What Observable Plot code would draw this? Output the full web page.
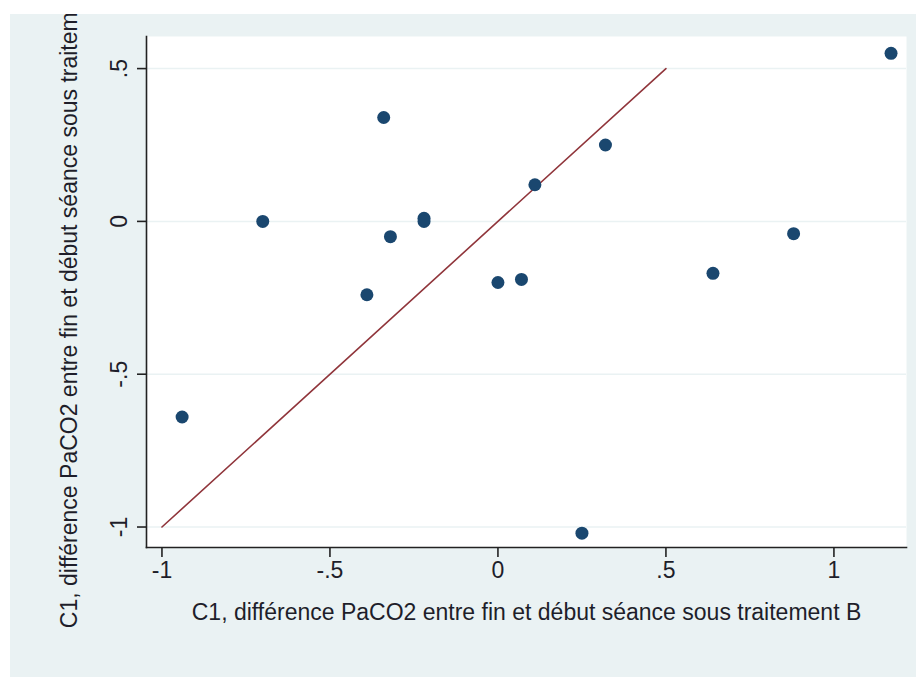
<!DOCTYPE html>
<html>
<head>
<meta charset="utf-8">
<script src="https://cdn.jsdelivr.net/npm/d3@7"></script>
<script src="https://cdn.jsdelivr.net/npm/@observablehq/plot@0.6"></script>
<style>
  html, body { margin: 0; padding: 0; background: #ffffff; }
  #panel { position: absolute; left: 10px; top: 14px; width: 906px; height: 663px; background: #eaf2f3; overflow: hidden; }
  #panel svg { overflow: hidden; display: block; }
</style>
</head>
<body>
<div id="panel"></div>
<script>
// Data
const xB = [-0.94, -0.70, -0.39, -0.34, -0.32, -0.22, -0.22, 0.00, 0.07, 0.11, 0.32, 0.25, 0.64, 0.88, 1.17];
const yA = [-0.64, 0.00, -0.24, 0.34, -0.05, 0.01, 0.00, -0.20, -0.19, 0.12, 0.25, -1.02, -0.17, -0.04, 0.55];
const refX = [-1, 0.5];
const refY = [-1, 0.5];
const xTicks = [-1, -0.5, 0, 0.5, 1];
const yTicks = [-1, -0.5, 0, 0.5];
const xTitle = "C1, différence PaCO2 entre fin et début séance sous traitement B";
const yTitle = "C1, différence PaCO2 entre fin et début séance sous traitement A";

const points = xB.map((x, i) => ({x, y: yA[i]}));
const ref = refX.map((x, i) => ({x, y: refY[i]}));
const fmt = d => d === 0 ? "0" : String(d).replace("0.", ".");

const font = "Liberation Sans, Arial, sans-serif";
const fs = 23;
const ink = "#1e1e2a";

const chart = Plot.plot({
  width: 906,
  height: 663,
  marginLeft: 136,
  marginRight: 10,
  marginTop: 22,
  marginBottom: 130,
  style: {background: "transparent", fontFamily: font, fontSize: fs + "px", color: ink, overflow: "hidden"},
  x: {domain: [-1.046, 1.216], axis: null},
  y: {domain: [-1.067, 0.605], axis: null},
  marks: [
    Plot.frame({fill: "#ffffff", stroke: null}),
    Plot.ruleY(yTicks, {y: d => d, stroke: "#eaf2f3", strokeWidth: 1.5}),
    Plot.frame({anchor: "left", stroke: "#222", strokeWidth: 1.6}),
    Plot.frame({anchor: "bottom", stroke: "#222", strokeWidth: 1.6}),
    Plot.axisX({ticks: xTicks, tickSize: 10, tickPadding: 4, tickFormat: fmt, fontSize: fs, strokeWidth: 1.6, stroke: "#222", fill: ink, label: null}),
    Plot.axisY({ticks: yTicks, tickSize: 9, text: null, strokeWidth: 1.6, stroke: "#222", label: null}),
    Plot.text(yTicks, {y: d => d, frameAnchor: "left", dx: -27, rotate: -90, textAnchor: "middle", lineAnchor: "middle", text: fmt, fontSize: fs, fill: ink}),
    Plot.text([xTitle], {frameAnchor: "bottom", dy: 72, textAnchor: "middle", text: d => d, fontSize: fs, fill: ink}),
    Plot.text([yTitle], {frameAnchor: "left", dx: -77, dy: 2, rotate: -90, textAnchor: "middle", lineAnchor: "middle", text: d => d, fontSize: fs, fill: ink}),
    Plot.line(ref, {x: "x", y: "y", stroke: "#90353b", strokeWidth: 1.6}),
    Plot.dot(points, {x: "x", y: "y", r: 6.5, fill: "#1a476f", stroke: null})
  ]
});
document.getElementById("panel").appendChild(chart);
</script>
</body>
</html>
